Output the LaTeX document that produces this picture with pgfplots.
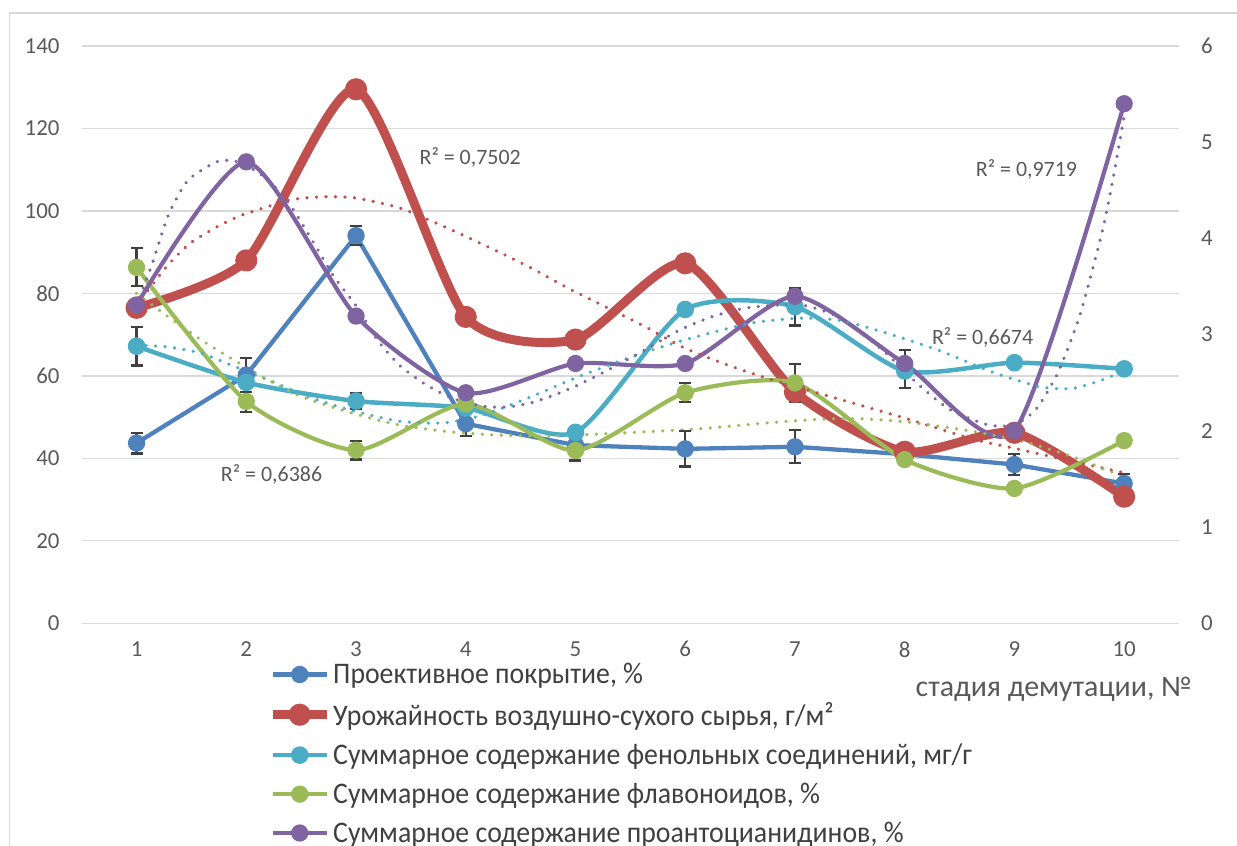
\documentclass[border=0pt]{standalone}
\usepackage{pgfplots}
\pgfplotsset{compat=1.18}
\usepackage{fontspec}
\setmainfont{Carlito}
\newfontfamily\legfont{Carlito}[FakeStretch=0.93]
\definecolor{cblue}{HTML}{4F81BD}
\definecolor{cred}{HTML}{C0504D}
\definecolor{ccyan}{HTML}{4BACC6}
\definecolor{cgreen}{HTML}{9BBB59}
\definecolor{cpurple}{HTML}{8064A2}
\definecolor{tgray}{HTML}{595959}
\definecolor{lgray}{HTML}{404040}
\definecolor{ggray}{HTML}{D9D9D9}
\definecolor{egray}{HTML}{404040}
\pgfplotsset{
  trend/.style={forget plot, line width=3.6bp, dash pattern=on 0.01bp off 9.5bp, line cap=round, smooth, tension=0.4, mark=none},
  ebar/.style={forget plot, draw=none, mark=none, error bars/.cd, y dir=both, y explicit,
    error bar style={draw=egray, line width=2.2bp, solid},
    error mark options={rotate=90, draw=egray, line width=2.2bp, mark size=6bp, solid}},
}
\begin{document}
\begin{tikzpicture}[x=1bp,y=1bp]
\useasboundingbox (0,0) rectangle (1237,846);
\draw[ggray, line width=1.6bp] (9.5,-10) -- (9.5,832.7) -- (1250,832.7);
\begin{axis}[
  at={(81.7bp,222.7bp)}, anchor=south west,
  scale only axis, width=1097.3bp, height=577.3bp,
  xmin=0.5, xmax=10.5, ymin=0, ymax=140,
  xtick={1,...,10}, ytick={0,20,...,140},
  ymajorgrids, grid style={ggray, line width=1.3bp},
  axis line style={draw=none},
  major tick length=0,
  tick label style={font=\fontsize{23}{27}\selectfont, text=tgray},
  /pgf/number format/assume math mode=true,
  yticklabel style={anchor=east, inner sep=0pt, xshift=-22bp},
  xticklabel style={anchor=north, inner sep=0pt, yshift=-18bp},
  clip=false,
  legend cell align=left,
  legend image code/.code={\draw[mark repeat=2,mark phase=2,#1] plot coordinates {(0bp,0bp) (27bp,0bp) (54bp,0bp)};},
  legend style={at={(0.1698,-0.066)}, anchor=north west, draw=none, fill=none,
    font=\legfont\fontsize{30}{34}\selectfont, text=lgray, row sep=13bp, inner sep=0pt,
    /tikz/every even column/.append style={column sep=0bp}},
]
% Blue: projective cover
\addplot[color=cblue, line width=4.3bp, mark=*, mark size=6.5bp, mark options={solid}]
  coordinates {(1,43.7) (2,60.2) (3,94.0) (4,48.4) (5,43.2) (6,42.3) (7,42.8) (8,41.0) (9,38.5) (10,33.9)};
\addlegendentry{Проективное покрытие, \%}
% Red: yield
\addplot[color=cred, line width=9bp, smooth, tension=0.4, mark=*, mark size=6.5bp, mark options={solid}]
  coordinates {(1,76.5) (2,88.0) (3,129.5) (4,74.3) (5,68.8) (6,87.3) (7,56.1) (8,41.6) (9,46.2) (10,30.7)};
\addlegendentry{Урожайность воздушно-сухого сырья, г/м²}
% Cyan: phenolic
\addplot[color=ccyan, line width=4.5bp, smooth, tension=0.4, mark=*, mark size=6.5bp, mark options={solid}]
  coordinates {(1,67.2) (2,58.4) (3,53.9) (4,52.2) (5,46.3) (6,76.1) (7,76.8) (8,61.2) (9,63.2) (10,61.7)};
\addlegendentry{Суммарное содержание фенольных соединений, мг/г}
% Green: flavonoids
\addplot[color=cgreen, line width=4.2bp, smooth, tension=0.4, mark=*, mark size=6.5bp, mark options={solid}]
  coordinates {(1,86.3) (2,53.8) (3,42.0) (4,53.2) (5,41.9) (6,55.9) (7,58.3) (8,39.7) (9,32.7) (10,44.3)};
\addlegendentry{Суммарное содержание флавоноидов, \%}
% Purple: proanthocyanidins
\addplot[color=cpurple, line width=4.2bp, smooth, tension=0.4, mark=*, mark size=6.5bp, mark options={solid}]
  coordinates {(1,77.2) (2,111.9) (3,74.5) (4,55.9) (5,63.0) (6,63.0) (7,79.3) (8,63.0) (9,46.7) (10,126.0)};
\addlegendentry{Суммарное содержание проантоцианидинов, \%}
% trend lines
\addplot[trend, color=cred] coordinates {(1,77) (1.27,86.4) (1.49,92.2) (1.73,96.1) (1.94,98.8) (2.19,101) (2.40,102.7) (2.67,103.4) (2.98,103.2) (3.40,100.7) (3.87,95.4) (4.32,89.8) (4.63,85.7) (4.93,81.3) (5.33,76) (5.63,72) (5.99,66.8) (6.39,62.6) (6.75,59.4) (7.24,55.6) (7.97,50) (8.63,44.6) (8.99,42.5) (9.54,39.2) (10,36.5)};
\addplot[trend, color=ccyan] coordinates {(1,67.5) (1.29,67) (1.59,65.5) (1.89,62.3) (2.2,59) (2.56,55) (2.96,51.6) (3.4,49) (3.8,48.6) (4.17,50.6) (4.6,55) (5.0,59.5) (5.5,64.5) (5.99,68.7) (6.6,72.8) (7.06,74) (7.42,73.4) (7.88,70) (8.33,66) (8.79,61) (9.24,57.3) (9.54,57) (9.85,59.5) (10,61.7)};
\addplot[trend, color=cgreen] coordinates {(1,80) (1.29,74.3) (1.59,68.7) (1.89,63.8) (2.2,59) (2.5,55) (2.96,51) (3.41,48) (3.87,46.4) (4.32,45.6) (4.78,45.4) (5.23,45.9) (5.6,46.4) (6.15,47.2) (6.75,48.6) (7.24,49.5) (7.6,49.6) (8.03,48.8) (8.63,46.5) (9.09,44) (9.54,40.3) (10,35.5)};
\addplot[trend, color=cpurple] coordinates {(1,77) (1.14,87) (1.29,99) (1.47,107.5) (1.75,112.1) (1.96,111.6) (2.2,107.5) (2.41,101) (2.62,92) (2.8,84) (3.0,77) (3.2,68.5) (3.4,62.5) (3.6,58.5) (3.8,55.5) (4.0,53.5) (4.2,52.5) (4.4,52.5) (4.6,53.5) (4.8,55.3) (5.0,57.5) (5.23,60.5) (5.6,65.8) (5.94,71) (6.24,74.3) (6.54,76.4) (6.85,77.2) (7.1,77) (7.42,74) (7.81,66) (8.0,61) (8.18,56.6) (8.42,51.7) (8.76,48.1) (9.0,48.1) (9.2,52) (9.4,61) (9.6,75) (9.8,95) (9.9,108) (10,123)};
% error bars
\addplot[ebar] coordinates {(1,43.7) +- (0,2.5) (2,60.2) +- (0,4.1) (3,94.0) +- (0,2.3) (4,48.4) +- (0,3.0) (6,42.3) +- (0,4.3) (7,42.8) +- (0,4.0) (8,41.0) +- (0,1.8) (9,38.5) +- (0,2.5) (10,33.9) +- (0,2.4)};
\addplot[ebar] coordinates {(1,67.2) +- (0,4.7) (3,53.9) +- (0,1.9) (7,76.7) +- (0,4.5) (8,61.7) +- (0,4.6)};
\addplot[ebar] coordinates {(1,86.4) +- (0,4.6) (2,53.7) +- (0,2.4) (3,42.0) +- (0,2.3) (5,41.9) +- (0,2.4) (6,56.0) +- (0,2.3) (7,58.3) +- (0,4.6)};
% R^2 labels
\node[font=\fontsize{22}{26}\selectfont, text=tgray] at (axis cs:2.23,36) {R² = 0,6386};
\node[font=\fontsize{22}{26}\selectfont, text=tgray] at (axis cs:4.04,113) {R² = 0,7502};
\node[font=\fontsize{22}{26}\selectfont, text=tgray] at (axis cs:9.11,110) {R² = 0,9719};
\node[font=\fontsize{22}{26}\selectfont, text=tgray] at (axis cs:8.71,69.4) {R² = 0,6674};
\end{axis}
\begin{axis}[
  at={(81.7bp,222.7bp)}, anchor=south west,
  scale only axis, width=1097.3bp, height=577.3bp,
  xmin=0.5, xmax=10.5, ymin=0, ymax=6,
  axis x line=none, axis y line*=right,
  axis line style={draw=none},
  major tick length=0,
  ytick={0,...,6},
  tick label style={font=\fontsize{23}{27}\selectfont, text=tgray},
  /pgf/number format/assume math mode=true,
  yticklabel style={anchor=west, inner sep=0pt, xshift=22bp},
]
\addplot[draw=none, mark=none] coordinates {(1,0) (10,6)};
\end{axis}
\node[anchor=base east, inner sep=0pt, font=\fontsize{30}{34}\selectfont, text=tgray] at (1192,149) {стадия демутации, №};
\end{tikzpicture}
\end{document}
